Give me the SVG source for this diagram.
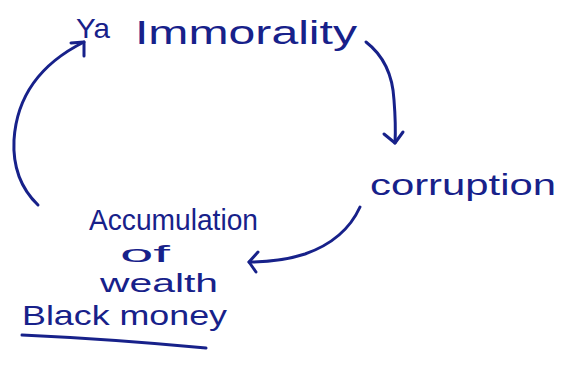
<svg xmlns="http://www.w3.org/2000/svg" width="567" height="371" viewBox="0 0 567 371">
<style>
.t{font-family:"Liberation Sans","DejaVu Sans",sans-serif;fill:#17218a}
.c{fill:none;stroke:#17218a;stroke-width:3;stroke-linecap:round;stroke-linejoin:round}
</style>
<rect width="567" height="371" fill="#ffffff"/>
<g id="node-immorality">
<text class="t" x="76" y="38" font-size="28" textLength="34" lengthAdjust="spacingAndGlyphs">Ya</text>
<text class="t" x="135" y="44" font-size="34" textLength="222" lengthAdjust="spacingAndGlyphs">Immorality</text>
</g>
<g id="node-corruption">
<text class="t" x="370" y="195" font-size="30" textLength="186" lengthAdjust="spacingAndGlyphs">corruption</text>
</g>
<g id="node-accumulation">
<text class="t" x="89" y="230" font-size="30" textLength="169" lengthAdjust="spacingAndGlyphs">Accumulation</text>
<text class="t" x="120" y="262" font-size="24" textLength="50" lengthAdjust="spacingAndGlyphs">of</text>
<text class="t" x="100" y="292" font-size="26" textLength="118" lengthAdjust="spacingAndGlyphs">wealth</text>
<text class="t" x="22" y="325" font-size="28" textLength="205" lengthAdjust="spacingAndGlyphs">Black money</text>
<path class="c" d="M22 335 Q110 339 206 348"/>
</g>
<g id="connectors">
<path class="c" d="M366 42 Q392 62 394 100 Q396 125 395 143"/>
<path class="c" d="M384 134 L395 143 L403 132"/>
<path class="c" d="M360 207 Q345 240 305 254 Q280 262 249 262"/>
<path class="c" d="M258 252 L249 262 L256 272"/>
<path class="c" d="M38 205 Q12 180 14 140 Q18 75 84 42"/>
<path class="c" d="M71 43 L84 42 L84 56"/>
</g>
</svg>
